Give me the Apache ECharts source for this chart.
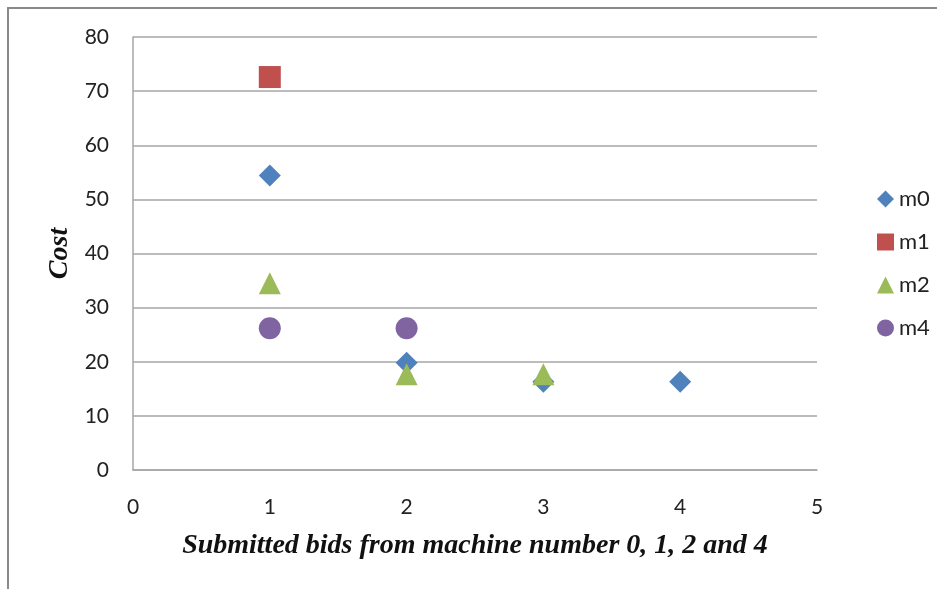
<!DOCTYPE html>
<html>
<head>
<meta charset="utf-8">
<script src="https://cdn.jsdelivr.net/npm/echarts@6/dist/echarts.min.js"></script>
<style>
  html, body { margin: 0; padding: 0; background: #fff; }
  #chart { width: 937px; height: 589px; }
</style>
</head>
<body>
<div id="chart"></div>
<script>
// Bid costs per machine, indexed by submitted bid number
const seriesNames = ['m0', 'm1', 'm2', 'm4'];
const m0 = [[1, 54.4], [2, 19.8], [3, 16.3], [4, 16.3]];
const m1 = [[1, 72.6]];
const m2 = [[1, 34.5], [2, 17.7], [3, 17.7]];
const m4 = [[1, 26.2], [2, 26.2]];
const yTicks = [0, 10, 20, 30, 40, 50, 60, 70, 80];
const xTicks = [0, 1, 2, 3, 4, 5];

const seriesData = [m0, m1, m2, m4];
const symbols = ['diamond', 'rect', 'triangle', 'circle'];
const colors = ['#4F81BD', '#C0504D', '#9BBB59', '#8064A2'];

const chart = echarts.init(document.getElementById('chart'), null, { renderer: 'canvas' });

const labelFont = { fontFamily: 'Lato, "Open Sans", sans-serif', fontSize: 21, color: '#222' };
const titleFont = { fontFamily: '"Liberation Serif", "DejaVu Serif", serif', fontSize: 28, fontWeight: 'bold', fontStyle: 'italic', color: '#111' };

chart.setOption({
  animation: false,
  backgroundColor: '#fff',
  graphic: [{
    type: 'rect',
    shape: { x: 8, y: 8, width: 1000, height: 1000 },
    style: { fill: 'none', stroke: '#8a8a8a', lineWidth: 2 },
    silent: true
  }],
  grid: { left: 133, top: 37, right: 120, bottom: 119 },
  legend: {
    orient: 'vertical',
    left: 872,
    top: 183,
    itemWidth: 17,
    itemHeight: 17,
    itemGap: 21,
    textStyle: { fontFamily: labelFont.fontFamily, fontSize: 22, color: '#222' },
    data: seriesNames.map((n, i) => ({ name: n, icon: symbols[i] }))
  },
  xAxis: {
    type: 'value',
    min: xTicks[0],
    max: xTicks[xTicks.length - 1],
    interval: 1,
    name: 'Submitted bids from machine number 0, 1, 2 and 4',
    nameLocation: 'middle',
    nameGap: 62,
    nameTextStyle: titleFont,
    axisLine: { show: true, lineStyle: { color: '#a6a6a6', width: 1.5 } },
    axisTick: { show: false },
    splitLine: { show: false },
    axisLabel: Object.assign({ margin: 27 }, labelFont)
  },
  yAxis: {
    type: 'value',
    min: yTicks[0],
    max: yTicks[yTicks.length - 1],
    interval: 10,
    name: 'Cost',
    nameLocation: 'middle',
    nameGap: 57,
    nameRotate: 90,
    nameTextStyle: titleFont,
    axisLine: { show: true, lineStyle: { color: '#a6a6a6', width: 1.5 } },
    axisTick: { show: false },
    splitLine: { show: true, lineStyle: { color: '#a6a6a6', width: 1.5 } },
    axisLabel: Object.assign({ margin: 24 }, labelFont)
  },
  series: seriesNames.map((n, i) => ({
    name: n,
    type: 'scatter',
    data: seriesData[i],
    symbol: symbols[i],
    symbolSize: 22,
    itemStyle: { color: colors[i], opacity: 1 },
    z: 2 + i
  }))
});
</script>
</body>
</html>
